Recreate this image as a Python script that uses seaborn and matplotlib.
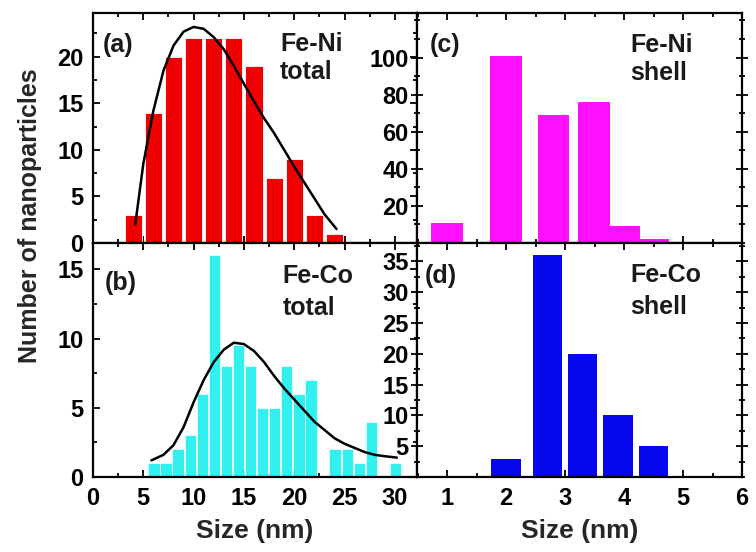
import matplotlib
matplotlib.use("Agg")
import matplotlib.pyplot as plt
import seaborn as sns
from matplotlib.ticker import MultipleLocator

# ---------------- data ----------------
# (a) Fe-Ni total
feni_total_size = [4, 6, 8, 10, 12, 14, 16, 18, 20, 22, 24]
feni_total_count = [3, 14, 20, 22, 22, 22, 19, 7, 9, 3, 1]
feni_fit_size = [4.2, 5, 6, 7, 8, 9, 10, 11, 12, 13, 14, 15, 16, 17, 18, 19, 20, 21, 22, 23, 24.2]
feni_fit_count = [2.0, 8.5, 14.2, 18.5, 21.2, 22.7, 23.2, 23.0, 22.1, 20.8, 19.0, 17.1,
                  15.2, 13.4, 11.8, 10.0, 8.2, 6.5, 4.8, 3.1, 1.5]

# (b) Fe-Co total
feco_total_size = [6.06, 7.26, 8.46, 9.66, 10.86, 12.06, 13.26, 14.46, 15.66, 16.86,
                   18.06, 19.26, 20.46, 21.66, 24.06, 25.26, 26.46, 27.66, 30.06]
feco_total_count = [1, 1, 2, 3, 6, 16, 8, 9.5, 8, 5, 5, 8, 6, 7, 2, 2, 1, 4, 1]
feco_fit_size = [5.8, 7, 8, 9, 10, 11, 12, 13, 14, 15, 16, 17, 18, 19, 20, 21, 22, 23,
                 24, 25, 26, 27, 28, 29, 30.2]
feco_fit_count = [1.2, 1.6, 2.3, 3.6, 5.4, 7.0, 8.3, 9.2, 9.7, 9.6, 9.1, 8.3, 7.3, 6.4,
                  5.6, 4.8, 4.0, 3.4, 2.8, 2.4, 2.1, 1.8, 1.6, 1.5, 1.4]

# (c) Fe-Ni shell
feni_shell_size = [1.0, 2.0, 2.8, 3.49, 4.0, 4.5]
feni_shell_count = [11, 101, 69, 76, 9, 2]

# (d) Fe-Co shell
feco_shell_size = [2.0, 2.7, 3.3, 3.9, 4.5]
feco_shell_count = [3, 36, 20, 10, 5]

# ---------------- style ----------------
sns.set_theme(style="ticks")
plt.rcParams["font.family"] = ["Liberation Sans", "DejaVu Sans"]
plt.rcParams["font.weight"] = "bold"
plt.rcParams["axes.labelweight"] = "bold"

RED = "#f00000"
CYAN = "#30f0f0"
MAGENTA = "#ff10ff"
BLUE = "#0808f0"
FS = 17

fig = plt.figure(figsize=(7.56, 5.52), dpi=100)
L, M, R = 93 / 756, 417 / 756, 742 / 756
T, H, B = 1 - 13 / 552, 1 - 243 / 552, 1 - 477 / 552
ax_a = fig.add_axes([L, H, M - L, T - H])
ax_c = fig.add_axes([M, H, R - M, T - H])
ax_b = fig.add_axes([L, B, M - L, H - B])
ax_d = fig.add_axes([M, B, R - M, H - B])


def style(ax, right_panel):
    for s in ax.spines.values():
        s.set_linewidth(1.6)
        s.set_color("black")
    ax.tick_params(axis="both", which="both", direction="in", top=True, right=True,
                   labelsize=FS, width=1.3, colors="black")
    ax.tick_params(axis="both", which="major", length=5)
    ax.tick_params(axis="both", which="minor", length=3)
    if right_panel:
        ax.tick_params(axis="y", which="both", direction="inout", pad=2)
        ax.tick_params(axis="y", which="major", length=8)
        ax.tick_params(axis="y", which="minor", length=5)
    else:
        ax.tick_params(axis="y", which="both", pad=7)
    ax.tick_params(axis="x", which="both", pad=7)
    for lab in ax.get_xticklabels() + ax.get_yticklabels():
        lab.set_fontweight("bold")


# (a)
ax_a.bar(feni_total_size, feni_total_count, width=1.7, color=RED, edgecolor="white", linewidth=0.6)
sns.lineplot(x=feni_fit_size, y=feni_fit_count, ax=ax_a, color="black", lw=1.8)
ax_a.set_xlim(0, 32.2)
ax_a.set_ylim(0, 24.7)
ax_a.set_yticks([0, 5, 10, 15, 20])
ax_a.yaxis.set_minor_locator(MultipleLocator(2.5))
ax_a.xaxis.set_major_locator(MultipleLocator(5))
ax_a.xaxis.set_minor_locator(MultipleLocator(2.5))
ax_a.tick_params(labelbottom=False)

# (b)
ax_b.bar(feco_total_size, feco_total_count, width=1.12, color=CYAN, edgecolor="white", linewidth=0.5)
sns.lineplot(x=feco_fit_size, y=feco_fit_count, ax=ax_b, color="black", lw=1.8)
ax_b.set_xlim(0, 32.2)
ax_b.set_ylim(0, 16.9)
ax_b.set_yticks([0, 5, 10, 15])
ax_b.yaxis.set_minor_locator(MultipleLocator(2.5))
ax_b.set_xticks([0, 5, 10, 15, 20, 25, 30])
ax_b.xaxis.set_minor_locator(MultipleLocator(2.5))

# (c)
ax_c.bar(feni_shell_size, feni_shell_count, width=0.53, color=MAGENTA, edgecolor="none")
ax_c.set_xlim(0.49, 6.0)
ax_c.set_ylim(0, 124)
ax_c.set_yticks([20, 40, 60, 80, 100])
ax_c.yaxis.set_minor_locator(MultipleLocator(10))
ax_c.xaxis.set_major_locator(MultipleLocator(1))
ax_c.xaxis.set_minor_locator(MultipleLocator(0.5))
ax_c.tick_params(labelbottom=False)

# (d)
ax_d.bar(feco_shell_size, feco_shell_count, width=0.5, color=BLUE, edgecolor="none")
ax_d.set_xlim(0.49, 6.0)
ax_d.set_ylim(0, 38)
ax_d.set_yticks([5, 10, 15, 20, 25, 30, 35])
ax_d.yaxis.set_minor_locator(MultipleLocator(2.5))
ax_d.set_xticks([1, 2, 3, 4, 5, 6])
ax_d.xaxis.set_minor_locator(MultipleLocator(0.5))

for ax, rp in [(ax_a, False), (ax_b, False), (ax_c, True), (ax_d, True)]:
    ax.set_xlabel("")
    ax.set_ylabel("")
    style(ax, rp)

# panel texts
txt = dict(fontsize=FS + 1, fontweight="bold", color="#1a1a1a", va="baseline", ha="left")
ax_a.text(0.031, 0.830, "(a)", transform=ax_a.transAxes, **txt)
ax_a.text(0.577, 0.835, "Fe-Ni", transform=ax_a.transAxes, **txt)
ax_a.text(0.577, 0.713, "total", transform=ax_a.transAxes, **txt)

ax_c.text(0.040, 0.830, "(c)", transform=ax_c.transAxes, **txt)
ax_c.text(0.655, 0.830, "Fe-Ni", transform=ax_c.transAxes, **txt)
ax_c.text(0.655, 0.709, "shell", transform=ax_c.transAxes, **txt)

ax_b.text(0.037, 0.800, "(b)", transform=ax_b.transAxes, **txt)
ax_b.text(0.586, 0.829, "Fe-Co", transform=ax_b.transAxes, **txt)
ax_b.text(0.586, 0.692, "total", transform=ax_b.transAxes, **txt)

ax_d.text(0.025, 0.829, "(d)", transform=ax_d.transAxes, **txt)
ax_d.text(0.655, 0.833, "Fe-Co", transform=ax_d.transAxes, **txt)
ax_d.text(0.655, 0.697, "shell", transform=ax_d.transAxes, **txt)

# axis labels
ax_b.set_xlabel("Size (nm)", fontsize=FS + 2, fontweight="bold")
ax_d.set_xlabel("Size (nm)", fontsize=FS + 2, fontweight="bold")
ax_b.xaxis.set_label_coords(0.5, -0.18)
ax_d.xaxis.set_label_coords(0.5, -0.18)
fig.text(30 / 756, 1 - 216 / 552, "Number of nanoparticles", rotation=90,
         ha="center", va="center", fontsize=FS + 1, fontweight="bold")

fig.savefig("out.png", dpi=100)
